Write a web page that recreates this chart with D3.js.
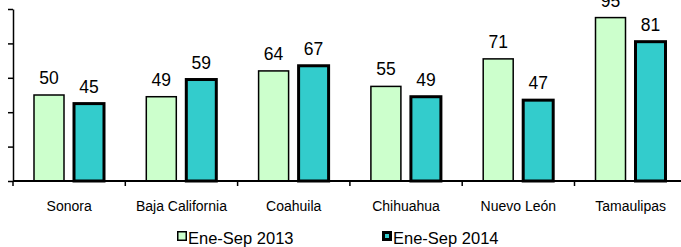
<!DOCTYPE html>
<html>
<head>
<meta charset="utf-8">
<script src="https://cdn.jsdelivr.net/npm/d3@7"></script>
<style>
  body { margin: 0; background: #fff; }
  svg { display: block; font-family: Arial, "Liberation Sans", sans-serif; }
</style>
</head>
<body>
<div id="chart"></div>
<script>
const categories = ["Sonora", "Baja California", "Coahuila", "Chihuahua", "Nuevo León", "Tamaulipas"];
const seriesNames = ["Ene-Sep 2013", "Ene-Sep 2014"];
const values2013 = [50, 49, 64, 55, 71, 95];
const values2014 = [45, 59, 67, 49, 47, 81];
const yTicks = [0, 20, 40, 60, 80, 100];

const width = 681;
const height = 247;
const colors = ["#CCFFCC", "#33CCCC"];
const strokes = [1.5, 3];

const svg = d3.select("#chart").append("svg")
  .attr("width", width)
  .attr("height", height);

const x0 = d3.scaleBand()
  .domain(categories)
  .range([13, 13 + 6 * 112.3]);

const x1 = d3.scaleBand()
  .domain(seriesNames)
  .range([21, 91])
  .paddingInner(0.25);

const y = d3.scaleLinear()
  .domain([0, 100])
  .range([181, 9]);

const rows = categories.map((c, i) => ({ cat: c, vals: [values2013[i], values2014[i]] }));

// bars
const groups = svg.append("g")
  .selectAll("g")
  .data(rows)
  .join("g")
  .attr("transform", (d) => `translate(${x0(d.cat)},0)`);

groups.selectAll("rect")
  .data((d) => d.vals.map((v, k) => ({ v, k })))
  .join("rect")
  .attr("x", (d) => x1(seriesNames[d.k]))
  .attr("y", (d) => y(d.v))
  .attr("width", x1.bandwidth())
  .attr("height", (d) => y(0) - y(d.v))
  .attr("fill", (d) => colors[d.k])
  .attr("stroke", "#000")
  .attr("stroke-width", (d) => strokes[d.k]);

groups.selectAll("text")
  .data((d) => d.vals.map((v, k) => ({ v, k })))
  .join("text")
  .attr("x", (d) => x1(seriesNames[d.k]) + x1.bandwidth() / 2)
  .attr("y", (d) => y(d.v) - 11)
  .attr("text-anchor", "middle")
  .attr("font-size", 17.5)
  .attr("fill", "#000")
  .text((d) => d.v);

// y axis, no labels
const yAxis = svg.append("g")
  .attr("transform", "translate(13,0)")
  .call(d3.axisLeft(y).tickValues(yTicks).tickSize(5).tickSizeOuter(0).tickFormat(""));
yAxis.selectAll("path, line").attr("stroke", "#000").attr("stroke-width", 1.5);

// x axis
const xAxis = svg.append("g");
xAxis.append("line")
  .attr("x1", 13).attr("x2", width)
  .attr("y1", y(0)).attr("y2", y(0))
  .attr("stroke", "#000").attr("stroke-width", 2);
xAxis.selectAll(".tk")
  .data(categories)
  .join("line")
  .attr("class", "tk")
  .attr("x1", (d) => x0(d)).attr("x2", (d) => x0(d))
  .attr("y1", y(0)).attr("y2", y(0) + 5)
  .attr("stroke", "#000").attr("stroke-width", 1.5);
xAxis.selectAll("text")
  .data(categories)
  .join("text")
  .attr("x", (d) => x0(d) + x0.bandwidth() / 2)
  .attr("y", 211)
  .attr("text-anchor", "middle")
  .attr("font-size", 14)
  .attr("fill", "#000")
  .text((d) => d);

// legend
const legendX = [177, 382];
const legend = svg.append("g")
  .selectAll("g")
  .data(seriesNames)
  .join("g")
  .attr("transform", (d, i) => `translate(${legendX[i]},231)`);
legend.append("rect")
  .attr("x", (d, i) => i === 0 ? 0.75 : 1.5)
  .attr("y", (d, i) => i === 0 ? 0.75 : 1.5)
  .attr("width", (d, i) => i === 0 ? 8.5 : 7)
  .attr("height", (d, i) => i === 0 ? 8.5 : 7)
  .attr("fill", (d, i) => colors[i])
  .attr("stroke", "#000")
  .attr("stroke-width", (d, i) => strokes[i]);
legend.append("text")
  .attr("x", 11)
  .attr("y", 13)
  .attr("font-size", 16.5)
  .attr("fill", "#000")
  .text((d) => d);
</script>
</body>
</html>
